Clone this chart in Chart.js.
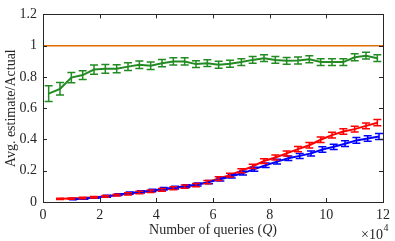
<!DOCTYPE html>
<html>
<head>
  <script src="https://cdn.jsdelivr.net/npm/chart.js"></script>
  <style>
    body { margin: 0; background: #fff; }
    #wrap { width: 395px; height: 241px; }
  </style>
</head>
<body>
  <div id="wrap"><canvas id="c"></canvas></div>
  <script>
    // x values in units of 10^4 queries
    var xTicks = [0, 2, 4, 6, 8, 10, 12];
    var xTickLabels = ['0', '2', '4', '6', '8', '10', '12'];
    var yTicks = [0, 0.2, 0.4, 0.6, 0.8, 1, 1.2];
    var yTickLabels = ['0', '0.2', '0.4', '0.6', '0.8', '1', '1.2'];

    var greenX = [0.2, 0.6, 1.0, 1.4, 1.8, 2.2, 2.6, 3.0, 3.4, 3.8, 4.2, 4.6, 5.0, 5.4, 5.8,
                  6.2, 6.6, 7.0, 7.4, 7.8, 8.2, 8.6, 9.0, 9.4, 9.8, 10.2, 10.6, 11.0, 11.4, 11.8];
    var greenY = [0.693, 0.724, 0.796, 0.812, 0.847, 0.852, 0.852, 0.866, 0.878, 0.872, 0.888, 0.899, 0.899,
                  0.882, 0.888, 0.878, 0.884, 0.895, 0.909, 0.920, 0.909, 0.903, 0.905, 0.913, 0.895,
                  0.895, 0.895, 0.926, 0.936, 0.920];
    var greenErr = [0.05, 0.04, 0.033, 0.028, 0.03, 0.028, 0.026, 0.025, 0.024, 0.024, 0.023, 0.023, 0.023,
                    0.022, 0.022, 0.022, 0.022, 0.022, 0.022, 0.022, 0.022, 0.022, 0.022, 0.022, 0.022,
                    0.022, 0.022, 0.022, 0.022, 0.022];

    var redX = [0.6, 1.0, 1.4, 1.8, 2.2, 2.6, 3.0, 3.4, 3.8, 4.2, 4.6, 5.0, 5.4, 5.8, 6.2,
                6.6, 7.0, 7.4, 7.8, 8.2, 8.6, 9.0, 9.4, 9.8, 10.2, 10.6, 11.0, 11.4, 11.8];
    var redY = [0.020, 0.022, 0.025, 0.030, 0.036, 0.044, 0.052, 0.060, 0.068, 0.078, 0.088, 0.098, 0.108,
                0.127, 0.150, 0.172, 0.200, 0.228, 0.262, 0.285, 0.311, 0.338, 0.363, 0.398, 0.428,
                0.451, 0.466, 0.487, 0.507];
    var redErr = [0.004, 0.004, 0.005, 0.005, 0.006, 0.006, 0.007, 0.008, 0.008, 0.009, 0.009, 0.01, 0.01,
                  0.011, 0.012, 0.012, 0.013, 0.014, 0.015, 0.016, 0.016, 0.017, 0.017, 0.018, 0.018,
                  0.018, 0.019, 0.019, 0.02];

    var blueX = [1.06, 1.46, 1.86, 2.26, 2.66, 3.06, 3.46, 3.86, 4.26, 4.66, 5.06, 5.46, 5.86, 6.26,
                 6.66, 7.06, 7.46, 7.86, 8.26, 8.66, 9.06, 9.46, 9.86, 10.26, 10.66, 11.06, 11.46, 11.86];
    var blueY = [0.018, 0.022, 0.029, 0.037, 0.047, 0.057, 0.065, 0.074, 0.084, 0.092, 0.102, 0.112, 0.127,
                 0.145, 0.165, 0.185, 0.210, 0.235, 0.258, 0.280, 0.295, 0.311, 0.336, 0.353, 0.373,
                 0.394, 0.406, 0.419];
    var blueErr = [0.004, 0.005, 0.005, 0.006, 0.006, 0.007, 0.007, 0.008, 0.008, 0.009, 0.009, 0.01, 0.01,
                   0.011, 0.012, 0.012, 0.013, 0.014, 0.015, 0.015, 0.016, 0.016, 0.017, 0.017, 0.018,
                   0.018, 0.018, 0.019];

    var actualX = [0, 12];
    var actualY = [1, 1];

    function pts(xs, ys) {
      var out = [];
      for (var i = 0; i < xs.length; i++) out.push({ x: xs[i], y: ys[i] });
      return out;
    }

    var axisColor = '#262626';
    var serif = '"Liberation Serif", "DejaVu Serif", serif';

    var errorBars = {
      id: 'errorBars',
      afterDatasetsDraw: function (chart) {
        var ctx = chart.ctx;
        var ys = chart.scales.y;
        ctx.save();
        chart.data.datasets.forEach(function (ds, i) {
          if (!ds.err) return;
          var meta = chart.getDatasetMeta(i);
          ctx.strokeStyle = ds.borderColor;
          ctx.lineWidth = 1.5;
          meta.data.forEach(function (p, j) {
            var v = ds.data[j].y;
            var top = ys.getPixelForValue(v + ds.err[j]);
            var bot = ys.getPixelForValue(v - ds.err[j]);
            ctx.beginPath();
            ctx.moveTo(p.x, top); ctx.lineTo(p.x, bot);
            ctx.moveTo(p.x - 4, top); ctx.lineTo(p.x + 4, top);
            ctx.moveTo(p.x - 4, bot); ctx.lineTo(p.x + 4, bot);
            ctx.stroke();
          });
        });
        ctx.restore();
      }
    };

    var frame = {
      id: 'frame',
      afterDraw: function (chart) {
        var ctx = chart.ctx;
        var a = chart.chartArea;
        var xs = chart.scales.x, ys = chart.scales.y;
        ctx.save();
        ctx.strokeStyle = axisColor;
        ctx.lineWidth = 1;
        ctx.strokeRect(Math.round(a.left) + 0.5, Math.round(a.top) + 0.5,
                       Math.round(a.right - a.left), Math.round(a.bottom - a.top));
        ctx.beginPath();
        xTicks.forEach(function (t) {
          var px = Math.round(xs.getPixelForValue(t)) + 0.5;
          ctx.moveTo(px, a.bottom); ctx.lineTo(px, a.bottom - 4);
          ctx.moveTo(px, a.top); ctx.lineTo(px, a.top + 4);
        });
        yTicks.forEach(function (t) {
          var py = Math.round(ys.getPixelForValue(t)) + 0.5;
          ctx.moveTo(a.left, py); ctx.lineTo(a.left + 4, py);
          ctx.moveTo(a.right, py); ctx.lineTo(a.right - 4, py);
        });
        ctx.stroke();

        ctx.fillStyle = axisColor;
        // x title with italic Q
        var cx = (a.left + a.right) / 2;
        var f1 = '14px ' + serif, f2 = 'italic 14px ' + serif;
        var s1 = 'Number of queries (', s2 = 'Q', s3 = ')';
        ctx.font = f1; var w1 = ctx.measureText(s1).width, w3 = ctx.measureText(s3).width;
        ctx.font = f2; var w2 = ctx.measureText(s2).width;
        var x0 = cx - (w1 + w2 + w3) / 2;
        ctx.textBaseline = 'alphabetic';
        ctx.textAlign = 'left';
        ctx.font = f1; ctx.fillText(s1, x0, 234);
        ctx.font = f2; ctx.fillText(s2, x0 + w1, 234);
        ctx.font = f1; ctx.fillText(s3, x0 + w1 + w2, 234);

        // x10^4 multiplier
        ctx.font = '14px ' + serif;
        ctx.textAlign = 'right';
        ctx.fillText('\u00d710', a.right, 239);
        ctx.font = '10px ' + serif;
        ctx.textAlign = 'left';
        ctx.fillText('4', a.right + 0.5, 231);

        // y title
        ctx.translate(11, (a.top + a.bottom) / 2);
        ctx.rotate(-Math.PI / 2);
        ctx.textAlign = 'center';
        ctx.textBaseline = 'middle';
        ctx.font = '14px ' + serif;
        ctx.fillText('Avg. estimate/Actual', 0, 0);
        ctx.restore();
      }
    };

    new Chart(document.getElementById('c'), {
      type: 'line',
      data: {
        datasets: [
          { data: pts(actualX, actualY), borderColor: '#e06c00', borderWidth: 1.5, pointRadius: 0 },
          { data: pts(greenX, greenY), err: greenErr, borderColor: '#228b22', borderWidth: 2, pointRadius: 0 },
          { data: pts(blueX, blueY), err: blueErr, borderColor: '#0000ff', borderWidth: 2, pointRadius: 0 },
          { data: pts(redX, redY), err: redErr, borderColor: '#ff0000', borderWidth: 2, pointRadius: 0 }
        ]
      },
      options: {
        responsive: true,
        maintainAspectRatio: false,
        animation: false,
        layout: { padding: { left: 0, right: 7, top: 8, bottom: 0 } },
        plugins: { legend: { display: false }, tooltip: { enabled: false } },
        scales: {
          x: {
            type: 'linear', min: 0, max: 12,
            afterBuildTicks: function (s) { s.ticks = xTicks.map(function (v) { return { value: v }; }); },
            afterFit: function (s) { s.height = 39; },
            grid: { display: false, drawTicks: false },
            border: { display: false },
            ticks: {
              padding: 5, color: axisColor, font: { family: serif, size: 14 }, maxRotation: 0,
              callback: function (v, i) { return xTickLabels[i]; }
            }
          },
          y: {
            min: 0, max: 1.2,
            afterBuildTicks: function (s) { s.ticks = yTicks.map(function (v) { return { value: v }; }); },
            afterFit: function (s) { s.width = 43; },
            grid: { display: false, drawTicks: false },
            border: { display: false },
            ticks: {
              padding: 6, color: axisColor, font: { family: serif, size: 14 },
              callback: function (v, i) { return yTickLabels[i]; }
            }
          }
        }
      },
      plugins: [errorBars, frame]
    });
  </script>
</body>
</html>
